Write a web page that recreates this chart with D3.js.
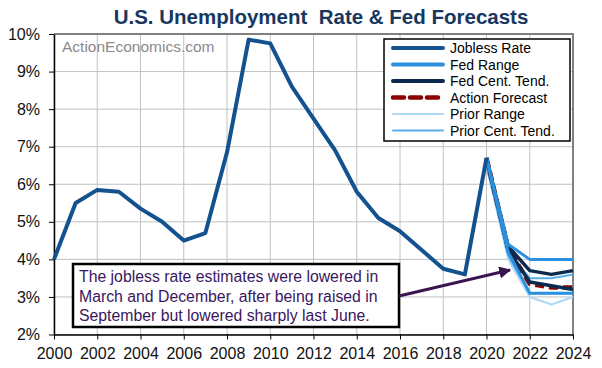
<!DOCTYPE html>
<html><head><meta charset="utf-8">
<script src="https://cdn.jsdelivr.net/npm/d3@7"></script>
<style>body{margin:0;background:#fff}svg{display:block;font-family:"Liberation Sans",Arial,sans-serif}</style>
</head><body><svg id="c" width="602" height="368"></svg>
<script>
const histYears = [2000,2001,2002,2003,2004,2005,2006,2007,2008,2009,2010,2011,2012,2013,2014,2015,2016,2017,2018,2019,2020];
const joblessRate = [4.0,5.5,5.85,5.8,5.35,5.0,4.5,4.7,6.85,9.85,9.75,8.6,7.75,6.9,5.8,5.1,4.75,4.25,3.75,3.6,6.7];
const fcYears = [2020,2021,2022,2023,2024];
const fedRangeHigh = [6.7,4.4,4.0,4.0,4.0];
const fedRangeLow  = [6.7,4.2,3.1,3.1,3.1];
const fedCentHigh  = [6.7,4.35,3.7,3.6,3.7];
const fedCentLow   = [6.7,4.25,3.4,3.3,3.2];
const actionFc     = [6.7,4.3,3.35,3.25,3.25];
const priorRangeHigh = [6.5,4.3,3.7,3.6,3.7];
const priorRangeLow  = [6.5,4.0,3.0,2.8,3.0];
const priorCentHigh  = [6.5,4.2,3.5,3.5,3.6];
const priorCentLow   = [6.5,4.1,3.1,3.1,3.1];
const yTicks = [2,3,4,5,6,7,8,9,10];
const xTicks = [2000,2002,2004,2006,2008,2010,2012,2014,2016,2018,2020,2022,2024];
const legendLabels = ["Jobless Rate","Fed Range","Fed Cent. Tend.","Action Forecast","Prior Range","Prior Cent. Tend."];
const title = "U.S. Unemployment  Rate & Fed Forecasts";
const noteLines = ["The jobless rate estimates were lowered in","March and December, after being raised in","September but lowered sharply last June."];

const C = {jobless:"#13528f", fedRange:"#2b90dd", fedCent:"#0c2a4d", action:"#8b0000", priorRange:"#aed9f5", priorCent:"#5aaeee"};

const svg = d3.select("#c");
const x = d3.scaleLinear().domain([2000,2024]).range([54,573]);
const y = d3.scaleLinear().domain([2,10]).range([334.5,34]);

// gridlines
const g = svg.append("g");
g.selectAll(".gy").data(yTicks).join("line").attr("x1",54).attr("x2",573)
 .attr("y1",d=>y(d)).attr("y2",d=>y(d)).attr("stroke","#c0c0c0").attr("stroke-width",1);
g.selectAll(".gx").data(xTicks).join("line").attr("y1",34).attr("y2",334.5)
 .attr("x1",d=>x(d)).attr("x2",d=>x(d)).attr("stroke","#c0c0c0").attr("stroke-width",1);
// border top/right
svg.append("path").attr("d",`M54,${y(10)}H${x(2024)}V${y(2)}`).attr("fill","none").attr("stroke","#808080").attr("stroke-width",2);

// axes
const ya = svg.append("g").attr("transform","translate(54,0)")
 .call(d3.axisLeft(y).tickValues(yTicks).tickFormat(d=>d+"%").tickSize(5).tickSizeOuter(0));
const xa = svg.append("g").attr("transform",`translate(0,${y(2)})`)
 .call(d3.axisBottom(x).tickValues(xTicks).tickFormat(d3.format("d")).tickSize(5).tickSizeOuter(0));
[ya,xa].forEach(a=>{a.select(".domain").attr("stroke","#000").attr("stroke-width",1.5);
 a.selectAll(".tick line").attr("stroke","#000");
 a.selectAll("text").attr("font-size",16).attr("fill","#111").attr("font-family","Liberation Sans, Arial, sans-serif");});
ya.selectAll("text").attr("x",-14);
xa.selectAll("text").attr("y",13);

// watermark
svg.append("text").attr("x",62).attr("y",52).attr("font-size",15.5).attr("fill","#8a8a8a").text("ActionEconomics.com");

// title
svg.append("text").attr("x",321).attr("y",24).attr("text-anchor","middle").attr("font-size",20.5)
 .attr("font-weight","bold").attr("fill","#17375e").style("white-space","pre").text(title);

const line = d3.line().x(d=>x(d[0])).y(d=>y(d[1]));
const fc = arr => fcYears.map((yr,i)=>[yr,arr[i]]);
function draw(data,color,w,dash){
 svg.append("path").datum(data).attr("d",line).attr("fill","none").attr("stroke",color)
  .attr("stroke-width",w).attr("stroke-linejoin","round").attr("stroke-dasharray",dash||null);
}
draw(fc(priorRangeHigh),C.priorRange,2);
draw(fc(priorRangeLow),C.priorRange,2);
draw(fc(priorCentHigh),C.priorCent,2);
draw(fc(priorCentLow),C.priorCent,2);
draw(fc(actionFc),C.action,4.5,"9,5");
draw(fc(fedCentHigh),C.fedCent,3.5);
draw(fc(fedCentLow),C.fedCent,3.5);
draw(fc(fedRangeHigh),C.fedRange,3);
draw(fc(fedRangeLow),C.fedRange,3);
draw(histYears.map((yr,i)=>[yr,joblessRate[i]]),C.jobless,4);

// legend
const lg = svg.append("g");
lg.append("rect").attr("x",384).attr("y",39).attr("width",186).attr("height",102).attr("fill","#fff").attr("stroke","#000").attr("stroke-width",1.5);
const lstyle = [[C.jobless,4,null],[C.fedRange,4,null],[C.fedCent,4,null],[C.action,4.5,"11,6"],[C.priorRange,2,null],[C.priorCent,2,null]];
legendLabels.forEach((t,i)=>{
 const yy = 48 + i*16.5;
 lg.append("line").attr("x1",393).attr("x2",443).attr("y1",yy).attr("y2",yy)
  .attr("stroke",lstyle[i][0]).attr("stroke-width",lstyle[i][1]).attr("stroke-dasharray",lstyle[i][2]).attr("stroke-linecap","round");
 lg.append("text").attr("x",450).attr("y",yy+5).attr("font-size",14).attr("fill","#000").text(t);
});

// annotation
svg.append("rect").attr("x",73).attr("y",264).attr("width",326).attr("height",63).attr("fill","#fff").attr("stroke","#000").attr("stroke-width",2.5);
noteLines.forEach((t,i)=>svg.append("text").attr("x",79).attr("y",282+i*19.5).attr("font-size",15.8).attr("fill","#3a1660").text(t));
svg.append("defs").append("marker").attr("id","ah").attr("viewBox","0 0 10 10").attr("refX",9).attr("refY",5)
 .attr("markerWidth",4).attr("markerHeight",4).attr("orient","auto").attr("markerUnits","strokeWidth")
 .append("path").attr("d","M0,0L10,5L0,10z").attr("fill","#3a1450");
svg.append("line").attr("x1",399).attr("y1",296).attr("x2",510).attr("y2",270).attr("stroke","#3a1450").attr("stroke-width",3).attr("marker-end","url(#ah)");
</script></body></html>
